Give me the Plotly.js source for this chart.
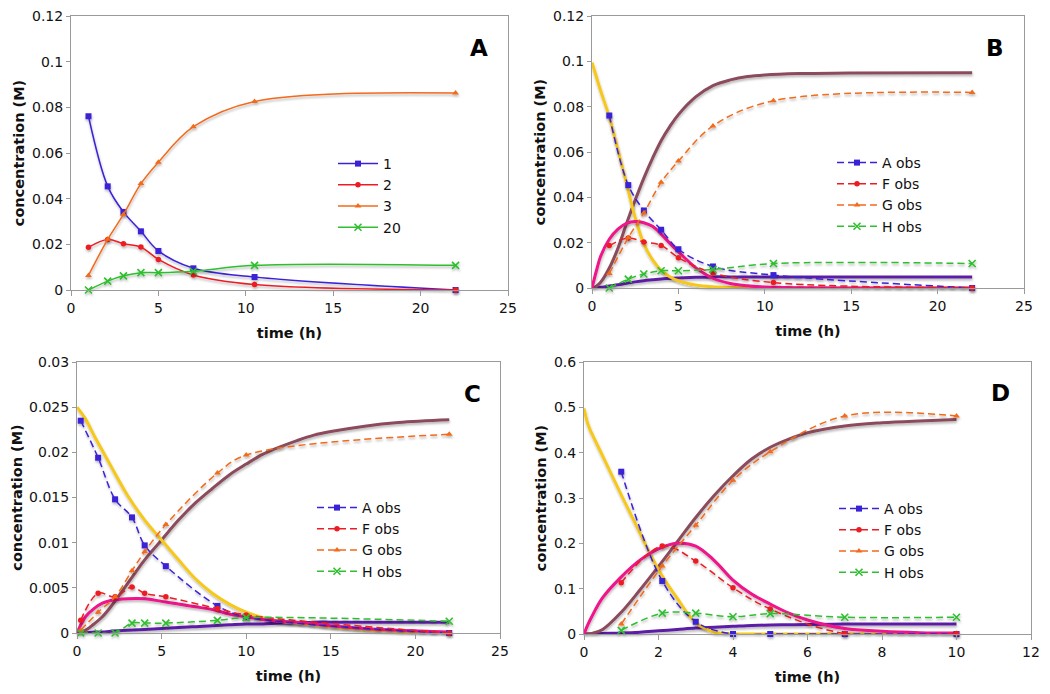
<!DOCTYPE html>
<html>
<head>
<meta charset="utf-8">
<script src="https://cdn.plot.ly/plotly-3.0.1.min.js"></script>
<style>
  html, body { margin: 0; padding: 0; background: #fff; }
  #chart { width: 1050px; height: 694px; }
  #chart .scatterlayer .trace { filter: url(#shadow); }
</style>
</head>
<body>
<svg width="0" height="0" style="position:absolute">
  <defs>
    <filter id="shadow" filterUnits="userSpaceOnUse" x="-2000" y="-2000" width="6000" height="6000">
      <feDropShadow dx="0.5" dy="2" stdDeviation="0.8" flood-color="#000" flood-opacity="0.28"/>
    </filter>
  </defs>
</svg>
<div id="chart"></div>
<script>
// observed times and concentrations, panels A and B (same data)
const tObsAB = [1, 2.1, 3, 4, 5, 7, 10.5, 22];
const obs1 = [0.0761, 0.0454, 0.0342, 0.0257, 0.0171, 0.0095, 0.0057, 0];
const obs2 = [0.0187, 0.0221, 0.0203, 0.0188, 0.0134, 0.0066, 0.0024, 0];
const obs3 = [0.0064, 0.0222, 0.0331, 0.0466, 0.0560, 0.0715, 0.0826, 0.0863];
const obs20 = [0, 0.0039, 0.0062, 0.0076, 0.0076, 0.0082, 0.0108, 0.0108];

// model curves, panel B
const tModelB = [0, 0.25, 0.5, 1, 1.5, 2, 2.5, 3, 3.5, 4, 4.5, 5, 6, 7, 8, 9, 10, 12, 15, 22];
const modelB_A = [0.0995, 0.0932, 0.087, 0.0755, 0.061, 0.046, 0.031, 0.0195, 0.0125, 0.0078, 0.005, 0.0032, 0.0013, 0.0005, 0.0002, 0.0001, 0, 0, 0, 0];
const modelB_F = [0, 0.0075, 0.014, 0.0215, 0.026, 0.0285, 0.0293, 0.0288, 0.0272, 0.0238, 0.0198, 0.016, 0.009, 0.0043, 0.002, 0.001, 0.0004, 0.0001, 0, 0];
const modelB_G = [0, 0.0008, 0.0025, 0.0088, 0.0175, 0.0285, 0.0388, 0.0485, 0.0572, 0.065, 0.0712, 0.0765, 0.0843, 0.0893, 0.0918, 0.0933, 0.094, 0.0946, 0.0949, 0.095];
const modelB_H = [0, 0.0001, 0.0003, 0.0009, 0.0014, 0.0021, 0.0027, 0.0032, 0.0036, 0.004, 0.0042, 0.0044, 0.0047, 0.0049, 0.0049, 0.0049, 0.0049, 0.0049, 0.0049, 0.0049];

// panel C
const tObsC = [0.22, 1.25, 2.25, 3.25, 4, 5.25, 8.3, 10, 22];
const obsC_A = [0.0235, 0.0194, 0.0148, 0.0128, 0.0097, 0.0074, 0.0030, 0.0018, 0];
const obsC_F = [0.0014, 0.0044, 0.0040, 0.0051, 0.0044, 0.0040, 0.0027, 0.0020, 0];
const obsC_G = [0.0003, 0.0023, 0.0040, 0.0069, 0.0090, 0.0120, 0.0177, 0.0197, 0.0220];
const obsC_H = [0, 0, 0, 0.0011, 0.0011, 0.0011, 0.0014, 0.0017, 0.0013];

const tModelC = [0, 0.5, 1, 1.5, 2, 3, 4, 5, 6, 7, 8, 9, 10, 11, 12, 13, 14, 15, 17, 19, 22];
const modelC_A = [0.025, 0.0237, 0.0219, 0.0202, 0.0185, 0.0152, 0.0125, 0.0103, 0.0081, 0.006, 0.0044, 0.0032, 0.0023, 0.0017, 0.0013, 0.0011, 0.0009, 0.0007, 0.0004, 0.0002, 0];
const modelC_F = [0, 0.0018, 0.0027, 0.0033, 0.0036, 0.0038, 0.0038, 0.0035, 0.0032, 0.0029, 0.0026, 0.0021, 0.0018, 0.0015, 0.0013, 0.0012, 0.001, 0.0008, 0.0005, 0.0003, 0.0001];
const modelC_G = [0, 0.0003, 0.001, 0.0018, 0.0029, 0.0055, 0.0081, 0.0103, 0.0125, 0.0144, 0.016, 0.0175, 0.0187, 0.0198, 0.0206, 0.0213, 0.0219, 0.0223, 0.0229, 0.0233, 0.0236];
const modelC_H = [0, 0, 0.0001, 0.0001, 0.0002, 0.0003, 0.0004, 0.0005, 0.0006, 0.0007, 0.0008, 0.0009, 0.001, 0.001, 0.0011, 0.0011, 0.0012, 0.0012, 0.0012, 0.0012, 0.0012];

// panel D
const tObsD = [1, 2.1, 3, 4, 5, 7, 10];
const obsD_A = [0.358, 0.117, 0.027, 0, 0, 0, 0];
const obsD_F = [0.113, 0.194, 0.161, 0.102, 0.055, 0.001, 0.001];
const obsD_G = [0.022, 0.150, 0.240, 0.339, 0.402, 0.481, 0.481];
const obsD_H = [0.008, 0.046, 0.046, 0.038, 0.045, 0.037, 0.037];

const tModelD = [0, 0.1, 0.2, 0.5, 1, 1.5, 2, 2.5, 3, 3.5, 4, 4.5, 5, 5.5, 6, 7, 8, 9, 10];
const modelD_A = [0.498, 0.464, 0.444, 0.393, 0.307, 0.223, 0.142, 0.079, 0.025, 0.004, 0, 0, 0, 0, 0, 0, 0, 0, 0];
const modelD_F = [0, 0.02, 0.037, 0.08, 0.126, 0.163, 0.188, 0.2, 0.194, 0.162, 0.119, 0.088, 0.066, 0.046, 0.031, 0.012, 0.006, 0.003, 0.002];
const modelD_G = [0, 0, 0.001, 0.01, 0.048, 0.097, 0.149, 0.203, 0.257, 0.306, 0.349, 0.386, 0.412, 0.43, 0.444, 0.459, 0.466, 0.47, 0.473];
const modelD_H = [0, 0, 0, 0.001, 0.002, 0.004, 0.007, 0.01, 0.013, 0.015, 0.017, 0.019, 0.02, 0.0205, 0.021, 0.022, 0.022, 0.022, 0.022];

const namesA = ["1", "2", "3", "20"];
const namesObs = ["A obs", "F obs", "G obs", "H obs"];

const FONT = "DejaVu Sans, Verdana, sans-serif";
const BLUE = "#3a22d6", RED = "#ec1c24", ORANGE = "#f26a1b", GREEN = "#2fbf2f";
const YELLOW = "#f7c81a", MAGENTA = "#ee1289", BROWN = "#8c4b5b", PURPLE = "#5b1fa6";

const markerSpecs = [
  { color: BLUE, symbol: "square", size: 6 },
  { color: RED, symbol: "circle", size: 5.5 },
  { color: ORANGE, symbol: "triangle-up", size: 6 },
  { color: GREEN, symbol: "x-thin", size: 7 }
];

function obsTrace(x, y, name, idx, sub, legend, dashed) {
  const m = markerSpecs[idx];
  const marker = { color: m.color, symbol: m.symbol, size: m.size };
  if (m.symbol === "x-thin") marker.line = { color: m.color, width: 1.6 };
  return {
    type: "scatter", mode: "lines+markers", x: x, y: y, name: name,
    xaxis: "x" + sub, yaxis: "y" + sub, legend: legend, cliponaxis: false,
    line: { color: m.color, width: 1.5, shape: "spline", dash: dashed ? "7px,4px" : "solid" },
    marker: marker
  };
}

function modelTrace(x, y, color, sub) {
  return {
    type: "scatter", mode: "lines", x: x, y: y, showlegend: false, hoverinfo: "skip",
    xaxis: "x" + sub, yaxis: "y" + sub, cliponaxis: false,
    line: { color: color, width: 3, shape: "spline" }
  };
}

function axisX(domain, range, dtick, anchor) {
  return {
    domain: domain, range: range, dtick: dtick, anchor: anchor,
    showgrid: false, zeroline: false, showline: true, mirror: true,
    linecolor: "#9a9a9a", linewidth: 1, ticks: "outside", ticklen: 5, tickcolor: "#9a9a9a",
    tickfont: { family: FONT, size: 14, color: "#111" },
    title: { text: "time (h)", font: { family: FONT, size: 14.5, color: "#111", weight: "bold" }, standoff: 13 }
  };
}

function axisY(domain, range, dtick, anchor) {
  return {
    domain: domain, range: range, dtick: dtick, anchor: anchor,
    showgrid: false, zeroline: false, showline: true, mirror: true,
    linecolor: "#9a9a9a", linewidth: 1, ticks: "outside", ticklen: 4, tickcolor: "#9a9a9a",
    tickfont: { family: FONT, size: 14, color: "#111" },
    title: { text: "concentration (M)", font: { family: FONT, size: 14.5, color: "#111", weight: "bold" }, standoff: 3 }
  };
}

function legendAt(xPx, yPx) {
  return {
    x: xPx / 1050, y: 1 - yPx / 694, xanchor: "left", yanchor: "top",
    bgcolor: "rgba(0,0,0,0)", borderwidth: 0, tracegroupgap: 0, itemwidth: 40,
    font: { family: FONT, size: 14, color: "#111" }
  };
}

function panelLabel(text, xPx, yPx) {
  return {
    text: text, xref: "paper", yref: "paper", x: xPx / 1050, y: 1 - yPx / 694,
    xanchor: "center", yanchor: "middle", showarrow: false,
    font: { family: FONT, size: 23, color: "#000", weight: "bold" }
  };
}

function buildTraces() {
  const traces = [];
  const obsAB = [obs1, obs2, obs3, obs20];
  const obsC = [obsC_A, obsC_F, obsC_G, obsC_H];
  const obsD = [obsD_A, obsD_F, obsD_G, obsD_H];

  // A
  obsAB.forEach((ys, i) => traces.push(obsTrace(tObsAB, ys, namesA[i], i, "", "legend", false)));

  // B: model curves underneath observations
  traces.push(modelTrace(tModelB, modelB_H, PURPLE, "2"));
  traces.push(modelTrace(tModelB, modelB_G, BROWN, "2"));
  traces.push(modelTrace(tModelB, modelB_A, YELLOW, "2"));
  traces.push(modelTrace(tModelB, modelB_F, MAGENTA, "2"));
  obsAB.forEach((ys, i) => traces.push(obsTrace(tObsAB, ys, namesObs[i], i, "2", "legend2", true)));

  // C
  traces.push(modelTrace(tModelC, modelC_H, PURPLE, "3"));
  traces.push(modelTrace(tModelC, modelC_G, BROWN, "3"));
  traces.push(modelTrace(tModelC, modelC_A, YELLOW, "3"));
  traces.push(modelTrace(tModelC, modelC_F, MAGENTA, "3"));
  obsC.forEach((ys, i) => traces.push(obsTrace(tObsC, ys, namesObs[i], i, "3", "legend3", true)));

  // D
  traces.push(modelTrace(tModelD, modelD_H, PURPLE, "4"));
  traces.push(modelTrace(tModelD, modelD_G, BROWN, "4"));
  traces.push(modelTrace(tModelD, modelD_A, YELLOW, "4"));
  traces.push(modelTrace(tModelD, modelD_F, MAGENTA, "4"));
  obsD.forEach((ys, i) => traces.push(obsTrace(tObsD, ys, namesObs[i], i, "4", "legend4", true)));

  return traces;
}

const layout = {
  width: 1050, height: 694,
  margin: { l: 0, r: 0, t: 0, b: 0 },
  paper_bgcolor: "#fff", plot_bgcolor: "#fff",
  font: { family: FONT, color: "#111" },
  xaxis: axisX([71 / 1050, 508 / 1050], [0, 25], 5, "y"),
  yaxis: axisY([1 - 290 / 694, 1 - 16 / 694], [0, 0.12], 0.02, "x"),
  xaxis2: axisX([592 / 1050, 1024 / 1050], [0, 25], 5, "y2"),
  yaxis2: axisY([1 - 288 / 694, 1 - 16 / 694], [0, 0.12], 0.02, "x2"),
  xaxis3: axisX([77 / 1050, 500 / 1050], [0, 25], 5, "y3"),
  yaxis3: axisY([1 - 633 / 694, 1 - 362 / 694], [0, 0.03], 0.005, "x3"),
  xaxis4: axisX([584 / 1050, 1031 / 1050], [0, 12], 2, "y4"),
  yaxis4: axisY([1 - 634 / 694, 1 - 362 / 694], [0, 0.6], 0.1, "x4"),
  legend: legendAt(333, 148),
  legend2: legendAt(832, 147),
  legend3: legendAt(312, 492),
  legend4: legendAt(834, 493),
  annotations: [
    panelLabel("A", 479, 48),
    panelLabel("B", 995, 48),
    panelLabel("C", 472, 394),
    panelLabel("D", 1000, 393)
  ],
  showlegend: true
};

Plotly.newPlot("chart", buildTraces(), layout, { displayModeBar: false, staticPlot: true });
</script>
</body>
</html>
